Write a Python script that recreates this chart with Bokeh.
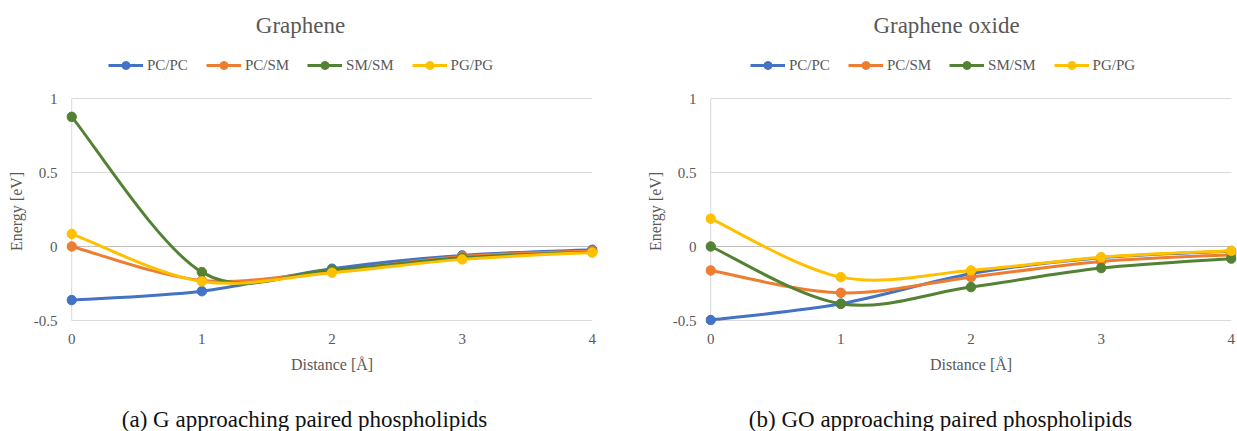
import numpy as np
from bokeh.plotting import figure
from bokeh.models import Range1d, FixedTicker, Legend, LegendItem, Label, CustomJSTickFormatter
from bokeh.layouts import row, column
from bokeh.embed import file_html
from bokeh.resources import INLINE

# ---------------- data ----------------
distance = [0, 1, 2, 3, 4]
series_names = ["PC/PC", "PC/SM", "SM/SM", "PG/PG"]
colors = ["#4472C4", "#ED7D31", "#548235", "#FFC000"]
y_ticks = [-0.5, 0, 0.5, 1]

g_pc_pc = [-0.362, -0.302, -0.150, -0.060, -0.022]
g_pc_sm = [0.000, -0.229, -0.166, -0.067, -0.031]
g_sm_sm = [0.876, -0.173, -0.157, -0.076, -0.038]
g_pg_pg = [0.085, -0.236, -0.177, -0.087, -0.040]

go_pc_pc = [-0.497, -0.387, -0.184, -0.076, -0.031]
go_pc_sm = [-0.162, -0.313, -0.207, -0.101, -0.055]
go_sm_sm = [0.000, -0.387, -0.274, -0.146, -0.082]
go_pg_pg = [0.188, -0.207, -0.162, -0.072, -0.029]

titles = ["Graphene", "Graphene oxide"]
captions = ["(a) G approaching paired phospholipids", "(b) GO approaching paired phospholipids"]

TEXT = "#595959"
GRID = "#d9d9d9"
AXIS = "#bfbfbf"
FONT = "Liberation Serif"
LINE_W = 3
MARK = 9.5

HEADER_H = 85
MAIN_H = 305
FOOTER_H = 41


def smooth_controls(xs, ys):
    """Bezier control points of an Excel-style smoothed line through the data."""
    x = np.asarray(xs, float)
    y = np.asarray(ys, float)
    n = len(x)
    xp = np.concatenate([[x[0]], x, [x[-1]]])
    yp = np.concatenate([[y[0]], y, [y[-1]]])
    cx0 = x[:-1] + (xp[2:n + 1] - xp[0:n - 1]) / 6.0
    cy0 = y[:-1] + (yp[2:n + 1] - yp[0:n - 1]) / 6.0
    cx1 = x[1:] - (xp[3:n + 2] - xp[1:n]) / 6.0
    cy1 = y[1:] - (yp[3:n + 2] - yp[1:n]) / 6.0
    return dict(x0=x[:-1], y0=y[:-1], x1=x[1:], y1=y[1:], cx0=cx0, cy0=cy0, cx1=cx1, cy1=cy1)


def blank(width, height):
    f = figure(width=width, height=height, output_backend="svg", toolbar_location=None,
               x_axis_type=None, y_axis_type=None, min_border=0,
               x_range=Range1d(0, 1), y_range=Range1d(0, 1),
               outline_line_color=None, background_fill_color="white", border_fill_color="white")
    f.grid.visible = False
    return f


def make_header(width, title, title_x, legend_x):
    h = blank(width, HEADER_H)
    items = []
    for name, col in zip(series_names, colors):
        # legend-only glyphs (a single undrawn NaN entry so the legend swatch renders)
        lr = h.line(x=[np.nan], y=[np.nan], line_color=col, line_width=LINE_W)
        sr = h.scatter(x=[np.nan], y=[np.nan], marker="circle", size=MARK,
                       fill_color=col, line_color=col)
        items.append(LegendItem(label=name, renderers=[lr, sr]))
    legend = Legend(items=items, orientation="horizontal", location=(legend_x, 10),
                    border_line_color=None, background_fill_alpha=0,
                    label_text_font=FONT, label_text_font_size="15px", label_text_color=TEXT,
                    glyph_width=35, glyph_height=20, label_standoff=4, spacing=18,
                    padding=0, margin=0)
    h.add_layout(legend, "center")
    h.add_layout(Label(x=title_x, y=HEADER_H - 25, x_units="screen", y_units="screen", text=title,
                       text_align="center", text_baseline="middle", text_font=FONT,
                       text_font_size="23px", text_color=TEXT))
    return h


def make_footer(width, caption, caption_x):
    f = blank(width, FOOTER_H)
    f.add_layout(Label(x=caption_x, y=12, x_units="screen", y_units="screen", text=caption,
                       text_align="center", text_baseline="middle", text_font=FONT,
                       text_font_size="23px", text_color="#111111"))
    return f


def make_main(width, border_left, border_right, data):
    xpad = 0.04
    ypad_lo = 5.0 / 148.0
    ypad_hi = 1.0 / 148.0
    p = figure(width=width, height=MAIN_H, output_backend="svg", toolbar_location=None,
               x_range=Range1d(min(distance) - xpad, max(distance) + xpad),
               y_range=Range1d(min(y_ticks) - ypad_lo, max(y_ticks) + ypad_hi),
               min_border_left=border_left, min_border_right=border_right,
               min_border_top=12, min_border_bottom=65,
               background_fill_color="white", border_fill_color="white",
               outline_line_color=None)
    p.grid.visible = False

    # gridlines and axis lines
    gy = [t for t in y_ticks if t != 0]
    p.segment(x0=[min(distance)] * len(gy), x1=[max(distance)] * len(gy), y0=gy, y1=gy,
              line_color=GRID, line_width=1)
    p.segment(x0=[min(distance)], x1=[min(distance)], y0=[min(y_ticks)], y1=[max(y_ticks)],
              line_color=GRID, line_width=1)
    p.segment(x0=[min(distance)], x1=[max(distance)], y0=[0], y1=[0],
              line_color=AXIS, line_width=1)

    for name, col, ys in zip(series_names, colors, data):
        c = smooth_controls(distance, ys)
        p.bezier(source=c, x0="x0", y0="y0", x1="x1", y1="y1", cx0="cx0", cy0="cy0",
                 cx1="cx1", cy1="cy1", line_color=col, line_width=LINE_W)
        p.scatter(x=distance, y=ys, marker="circle", size=MARK, fill_color=col, line_color=col)

    # axes
    p.xaxis.ticker = FixedTicker(ticks=distance)
    p.yaxis.ticker = FixedTicker(ticks=y_ticks)
    p.yaxis.formatter = CustomJSTickFormatter(code="return tick.toString();")
    for ax in (p.xaxis[0], p.yaxis[0]):
        ax.axis_line_color = None
        ax.major_tick_line_color = None
        ax.minor_tick_line_color = None
        ax.major_tick_out = 0
        ax.major_tick_in = 0
        ax.major_label_text_font = FONT
        ax.major_label_text_font_size = "15px"
        ax.major_label_text_color = TEXT
        ax.axis_label_text_font = FONT
        ax.axis_label_text_font_size = "16px"
        ax.axis_label_text_font_style = "normal"
        ax.axis_label_text_color = TEXT
    p.xaxis.axis_label = "Distance [Å]"
    p.yaxis.axis_label = "Energy [eV]"
    p.xaxis.major_label_standoff = 8
    p.xaxis.axis_label_standoff = 9
    p.yaxis.major_label_standoff = 9
    p.yaxis.axis_label_standoff = 6
    return p


# header/footer frames are aligned with the main plot frame (left border 66 / 85)
left = column(make_header(620, titles[0], 234, 42),
              make_main(620, 66, 23, [g_pc_pc, g_pc_sm, g_sm_sm, g_pg_pg]),
              make_footer(620, captions[0], 238), spacing=0)
right = column(make_header(617, titles[1], 241, 45),
               make_main(617, 85, 1, [go_pc_pc, go_pc_sm, go_sm_sm, go_pg_pg]),
               make_footer(617, captions[1], 235), spacing=0)

layout = row(left, right, spacing=0)
open("out.html", "w").write(file_html(layout, INLINE))
